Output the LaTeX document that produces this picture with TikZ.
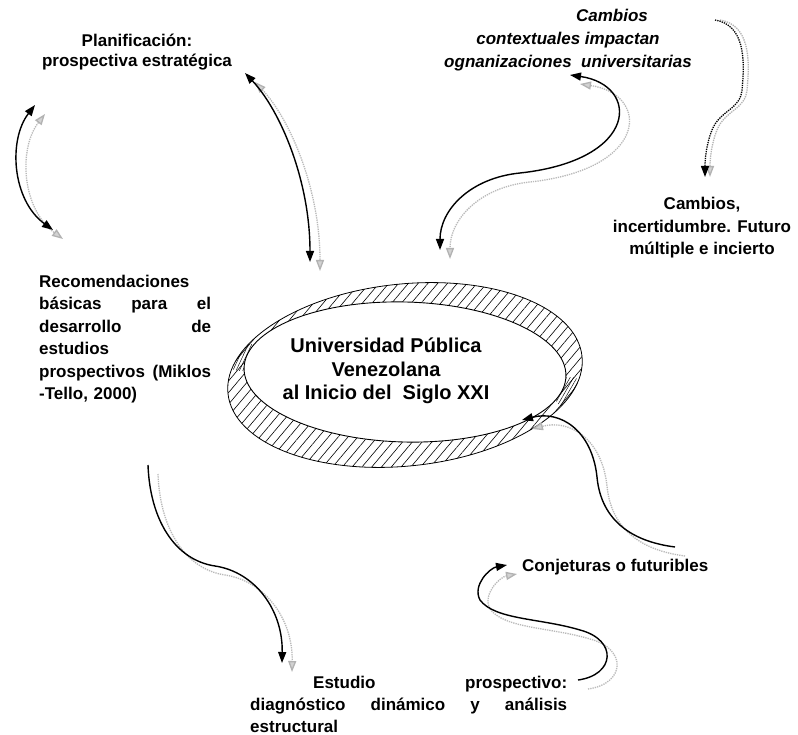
\documentclass[tikz,border=0pt]{standalone}
\usepackage{fontspec}
\setmainfont{Liberation Sans}
\usetikzlibrary{arrows.meta,patterns.meta}
\begin{document}
\begin{tikzpicture}[x=1pt,y=-1pt,
  lbl/.style={inner sep=0pt, font=\bfseries\fontsize{17}{22.5}\selectfont},
  blk/.style={line width=1.4pt, black},
  shd/.style={line width=1.3pt, gray!55, densely dotted, transform canvas={xshift=10pt,yshift=-9pt}},
  bh/.style={-{Triangle[length=11pt,width=8pt]}},
  bhh/.style={{Triangle[length=11pt,width=8pt]}-{Triangle[length=11pt,width=8pt]}},
  gh/.style={-{Triangle[length=11pt,width=8pt,fill=gray!35,color=gray!60]}},
  ghh/.style={{Triangle[length=11pt,width=8pt,fill=gray!35,color=gray!60]}-{Triangle[length=11pt,width=8pt,fill=gray!35,color=gray!60]}},
  outerring/.style={insert path={[rotate around={6:(405,375)}] (405,375) ellipse [x radius=178, y radius=91]}},
  innerring/.style={insert path={[rotate around={-1.5:(405,372)}] (405,372) ellipse [x radius=161, y radius=70]}}
]
\useasboundingbox (0,0) rectangle (798,735);
\fill[white] (0,0) rectangle (798,735);

% ring
\path[pattern={Lines[angle=50,distance=7.5pt,line width=0.6pt]}, outerring];
\begin{scope}
  \clip[outerring];
  \path[pattern={Lines[angle=65,distance=3pt,line width=0.45pt]}] (240,355) circle [radius=16];
  \path[pattern={Lines[angle=60,distance=3pt,line width=0.45pt]}] (570,393) circle [radius=16];
  \fill[white, innerring];
  \draw[line width=0.9pt, innerring];
\end{scope}
\draw[line width=0.8pt, outerring];

% texts
\node[lbl, align=center, font=\bfseries\fontsize{20}{23.5}\selectfont] (univ) at (386,371) {Universidad P\'ublica\\Venezolana\\al Inicio del\ \ Siglo XXI};
\node[lbl, align=center, font=\bfseries\fontsize{17}{19.5}\selectfont] (plan) at (137,52) {Planificaci\'on:\\prospectiva estrat\'egica};
\node[lbl, align=center, font=\bfseries\itshape\fontsize{17}{23}\selectfont] (ctx) at (568,40) {\hspace*{88pt}Cambios\\contextuales impactan\\ognanizaciones\ \ universitarias};
\node[lbl, align=center] (inc) at (702,228) {Cambios,\\incertidumbre. Futuro\\m\'ultiple e incierto};
\node[lbl, text width=172pt, align=left, anchor=west] (rec) at (39,339) {Recomendaciones\\\makebox[172pt][l]{b\'asicas\hfill para\hfill el}\\\makebox[172pt][l]{desarrollo\hfill de}\\estudios\\\makebox[172pt][l]{prospectivos\hfill (Miklos}\\-Tello, 2000)};
\node[lbl, text width=317pt, align=left, anchor=west, font=\bfseries\fontsize{17}{22}\selectfont] (est) at (250,704) {\makebox[317pt][l]{\hspace*{63pt}Estudio\hfill prospectivo:}\\\makebox[317pt][l]{diagn\'ostico\hfill din\'amico\hfill y\hfill an\'alisis}\\estructural};
\node[lbl, anchor=west] (conj) at (522,567) {Conjeturas o futuribles};

% coordinates
\coordinate (l1) at (35,105);  \coordinate (l2) at (53,230);
\coordinate (p1) at (245,73);  \coordinate (p2) at (310,262);
\coordinate (c1) at (570,75);  \coordinate (c2) at (440,250);
\coordinate (d1) at (715,20);  \coordinate (d2) at (705,177);
\coordinate (e1) at (148,465); \coordinate (e2) at (282,663);
\coordinate (r1) at (675,547); \coordinate (r2) at (522,420);
\coordinate (j1) at (578,680); \coordinate (j2) at (507,565);

% shadows
\draw[shd,ghh] (l1) .. controls (8,140) and (12,200) .. (l2);
\draw[shd,ghh] (p1) .. controls (280,110) and (310,180) .. (p2);
\draw[shd,ghh] (c1) .. controls (640,85) and (640,160) .. (520,173) .. controls (470,178) and (440,210) .. (c2);
\draw[shd,gh] (e1) .. controls (150,520) and (175,560) .. (215,566) .. controls (255,572) and (283,610) .. (e2);
\draw[shd,gh] (r1) .. controls (620,540) and (600,510) .. (597,477) .. controls (592,430) and (560,410) .. (r2);
\draw[shd,gh] (j1) .. controls (615,675) and (618,640) .. (580,630) .. controls (540,618) and (495,620) .. (480,600) .. controls (472,585) and (490,568) .. (j2);
\draw[line width=1.3pt, gray!60, densely dotted, gh, transform canvas={xshift=5pt,yshift=0pt}] (d1) .. controls (745,25) and (745,60) .. (742,90) .. controls (740,110) and (720,110) .. (712,130) .. controls (706,145) and (705,160) .. (d2);

% black arrows
\draw[blk,bhh] (l1) .. controls (8,140) and (12,200) .. (l2);
\draw[blk,bhh] (p1) .. controls (280,110) and (310,180) .. (p2);
\draw[blk,bhh] (c1) .. controls (640,85) and (640,160) .. (520,173) .. controls (470,178) and (440,210) .. (c2);
\draw[blk,bh] (e1) .. controls (150,520) and (175,560) .. (215,566) .. controls (255,572) and (283,610) .. (e2);
\draw[blk,bh] (r1) .. controls (620,540) and (600,510) .. (597,477) .. controls (592,430) and (560,410) .. (r2);
\draw[blk,bh] (j1) .. controls (615,675) and (618,640) .. (580,630) .. controls (540,618) and (495,620) .. (480,600) .. controls (472,585) and (490,568) .. (j2);
\draw[line width=1.3pt, black, densely dotted, bh] (d1) .. controls (745,25) and (745,60) .. (742,90) .. controls (740,110) and (720,110) .. (712,130) .. controls (706,145) and (705,160) .. (d2);
\end{tikzpicture}
\end{document}
